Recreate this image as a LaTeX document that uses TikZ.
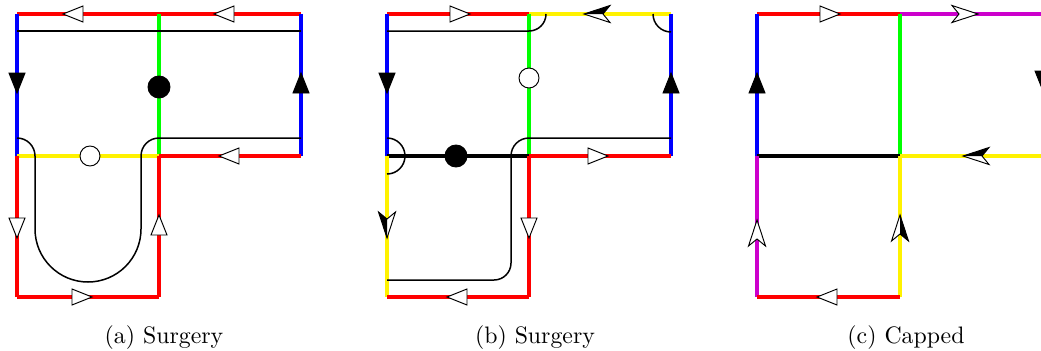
\documentclass[tikz,border=0pt]{standalone}
\definecolor{mag}{RGB}{204,0,204}
\begin{document}
\begin{tikzpicture}[x=0.42pt,y=0.42pt,
  edge/.style={line width=1.34pt},
  inner/.style={line width=0.63pt,black},
  otri/.pic={\draw[line width=0.4pt,fill=white] (10,0) -- (-10,8) -- (-10,-8) -- cycle;},
  ftri/.pic={\draw[line width=0.4pt,fill=black] (10,0) -- (-10,8) -- (-10,-8) -- cycle;},
  ostl/.pic={\draw[line width=0.4pt,fill=white] (13,0) -- (-13,8.5) -- (-6,0) -- (-13,-8.5) -- cycle;},
  hstl/.pic={\draw[line width=0.4pt,fill=white] (13,0) -- (-13,8.5) -- (-6,0) -- (-13,-8.5) -- cycle;
             \fill[black] (13,0) -- (-6,0) -- (-13,-8.5) -- cycle;},
  dotf/.style={draw,line width=0.4pt,fill=black},
  doto/.style={draw,line width=0.4pt,fill=white}
]
\useasboundingbox (0,0) rectangle (1041,-350);

% ---------------- panel (a)
\draw[edge,red] (17,-14) -- (159,-14);
\draw[edge,red] (159,-14) -- (301,-14);
\draw[edge,blue] (17,-14) -- (17,-156);
\draw[edge,green] (159,-14) -- (159,-156);
\draw[edge,blue] (301,-14) -- (301,-156);
\draw[edge,yellow] (17,-156) -- (159,-156);
\draw[edge,red] (159,-156) -- (301,-156);
\draw[edge,red] (17,-156) -- (17,-297);
\draw[edge,red] (159,-156) -- (159,-297);
\draw[edge,red] (17,-297) -- (159,-297);
\draw[inner] (17,-31) -- (301,-31);
\draw[inner] (301,-138) -- (159,-138) arc[start angle=90,end angle=180,radius=18]
  -- (141,-229) arc[start angle=0,end angle=-180,radius=53]
  -- (35,-156) arc[start angle=0,end angle=90,radius=18];
\draw[dotf] (159,-87) circle[radius=11];
\draw[doto] (90,-156) circle[radius=10];
\pic[rotate=180] at (73,-14) {otri};
\pic[rotate=180] at (224,-14) {otri};
\pic[rotate=-90] at (17,-83) {ftri};
\pic[rotate=90] at (301,-83) {ftri};
\pic[rotate=180] at (229,-156) {otri};
\pic[rotate=-90] at (17,-228) {otri};
\pic[rotate=90] at (159,-225) {otri};
\pic at (82,-297) {otri};

% ---------------- panel (b)
\draw[edge,red] (387,-14) -- (529,-14);
\draw[edge,yellow] (529,-14) -- (671,-14);
\draw[edge,blue] (387,-14) -- (387,-156);
\draw[edge,green] (529,-14) -- (529,-156);
\draw[edge,blue] (671,-14) -- (671,-156);
\draw[edge,black] (387,-156) -- (529,-156);
\draw[edge,red] (529,-156) -- (671,-156);
\draw[edge,yellow] (387,-156) -- (387,-297);
\draw[edge,red] (529,-156) -- (529,-297);
\draw[edge,red] (387,-297) -- (529,-297);
\draw[inner] (387,-31) -- (529,-31) arc[start angle=270,end angle=360,radius=17];
\draw[inner] (653,-14) arc[start angle=180,end angle=270,radius=18];
\draw[inner] (387,-138) arc[start angle=90,end angle=-90,radius=18];
\draw[inner] (671,-138) -- (529,-138) arc[start angle=90,end angle=180,radius=18]
  -- (511,-263) arc[start angle=0,end angle=-90,radius=17] -- (387,-280);
\draw[doto] (529,-78) circle[radius=10];
\draw[dotf] (456,-156) circle[radius=11];
\pic at (460,-14) {otri};
\pic[rotate=180] at (597,-14) {hstl};
\pic[rotate=-90] at (387,-83) {ftri};
\pic[rotate=90] at (671,-83) {ftri};
\pic at (598,-156) {otri};
\pic[rotate=-90] at (387,-225) {hstl};
\pic[rotate=-90] at (529,-228) {otri};
\pic[rotate=180] at (457,-297) {otri};

% ---------------- panel (c)
\draw[edge,red] (757,-14) -- (900,-14);
\draw[edge,mag] (900,-14) -- (1043,-14);
\draw[edge,blue] (757,-14) -- (757,-156);
\draw[edge,green] (900,-14) -- (900,-156);
\draw[edge,blue] (1043,-14) -- (1043,-156);
\draw[edge,black] (757,-156) -- (900,-156);
\draw[edge,yellow] (900,-156) -- (1043,-156);
\draw[edge,mag] (757,-156) -- (757,-297);
\draw[edge,yellow] (900,-156) -- (900,-297);
\draw[edge,red] (757,-297) -- (900,-297);
\pic at (830,-14) {otri};
\pic at (965,-14) {ostl};
\pic[rotate=90] at (757,-83) {ftri};
\pic[rotate=-90] at (1043,-81) {ftri};
\pic[rotate=180] at (976,-156) {hstl};
\pic[rotate=90] at (757,-233) {ostl};
\pic[rotate=90] at (900,-228) {hstl};
\pic[rotate=180] at (827,-297) {otri};

% captions
\node[anchor=base,inner sep=0pt] (capa) at (164,-343) {(a) Surgery};
\node[anchor=base,inner sep=0pt] (capb) at (535,-343) {(b) Surgery};
\node[anchor=base,inner sep=0pt] (capc) at (906,-343) {(c) Capped};
\end{tikzpicture}
\end{document}
